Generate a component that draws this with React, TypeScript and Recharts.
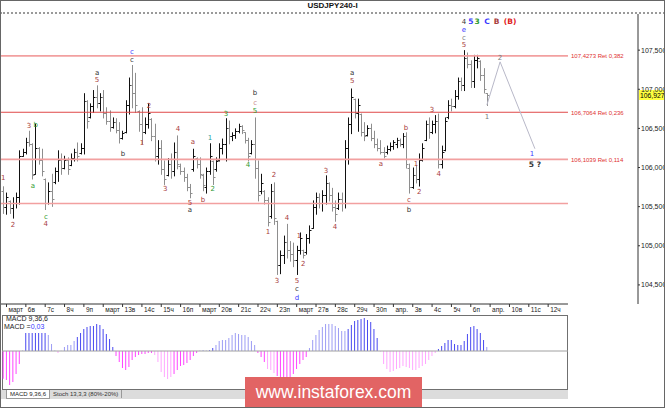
import React from "react";
import {
  ComposedChart,
  Bar,
  Line,
  XAxis,
  YAxis,
  ReferenceLine,
  ReferenceDot,
  Cell,
} from "recharts";

// 4h bars, index 0 = last bar of Fri 2 March, index 150 = last bar of Fri 6 April
const opens = [
  105.70, 105.50, 105.57, 105.48, 105.55, 105.62, 106.15, 106.20, 106.33, 106.30,
  105.92, 106.25, 106.10, 105.85, 105.55, 105.70, 105.82, 105.95, 106.10, 106.00,
  106.10, 106.03, 106.12, 106.20, 106.18, 106.25, 106.85, 106.65, 106.78, 106.90,
  106.82, 106.90, 106.70, 106.60, 106.52, 106.58, 106.48, 106.38, 106.45, 106.80,
  107.05, 106.95, 106.72, 106.55, 106.45, 106.55, 106.62, 106.40, 106.15, 106.25,
  105.98, 105.90, 106.05, 105.95, 106.20, 106.02, 105.95, 105.88, 105.75, 105.98,
  106.12, 106.05, 105.90, 105.75, 105.95, 106.08, 105.98, 106.10, 106.25, 106.30,
  106.50, 106.40, 106.42, 106.47, 106.53, 106.45, 106.35, 106.18, 106.30, 106.00,
  105.70, 105.70, 105.58, 105.38, 105.70, 105.32, 104.75, 104.88, 105.05, 104.95,
  104.90, 104.82, 104.95, 104.94, 104.92, 105.10, 105.23, 105.50, 105.62, 105.55,
  105.65, 105.80, 105.65, 105.50, 105.48, 105.60, 105.55, 106.25, 106.55, 106.88,
  106.70, 106.68, 106.45, 106.42, 106.50, 106.38, 106.30, 106.25, 106.20, 106.20,
  106.24, 106.28, 106.30, 106.35, 106.30, 106.40, 106.00, 105.75, 105.90, 105.85,
  106.10, 106.35, 106.55, 106.45, 106.55, 106.60, 106.05, 106.22, 106.65, 106.80,
  106.78, 106.92, 107.10, 107.05, 107.40, 107.32, 107.10, 107.38, 107.36, 107.18,
  106.95,
];
const highs = [
  105.76, 105.68, 105.58, 105.62, 105.68, 106.22, 106.24, 106.38, 106.47, 106.31,
  106.56, 106.26, 106.24, 105.86, 105.81, 105.92, 106.00, 106.22, 106.18, 106.15,
  106.13, 106.18, 106.24, 106.32, 106.31, 106.95, 106.86, 106.82, 106.99, 107.05,
  106.95, 106.99, 106.77, 106.73, 106.64, 106.63, 106.58, 106.47, 106.86, 107.15,
  107.31, 107.21, 106.73, 106.77, 106.64, 106.82, 106.63, 106.56, 106.35, 106.35,
  106.09, 106.12, 106.18, 106.32, 106.41, 106.05, 106.00, 105.92, 105.79, 106.24,
  106.13, 106.13, 105.92, 106.00, 106.31, 106.09, 106.13, 106.31, 106.37, 106.63,
  106.60, 106.45, 106.50, 106.56, 106.54, 106.45, 106.38, 106.35, 106.64, 106.09,
  105.92, 105.71, 105.62, 105.79, 105.81, 105.32, 104.94, 105.13, 105.28, 105.06,
  105.04, 105.00, 105.17, 104.95, 105.15, 105.26, 105.58, 105.68, 105.67, 105.71,
  105.90, 105.81, 105.74, 105.58, 105.68, 105.68, 106.35, 106.64, 107.01, 106.88,
  106.88, 106.69, 106.58, 106.54, 106.56, 106.47, 106.37, 106.35, 106.26, 106.28,
  106.32, 106.35, 106.38, 106.37, 106.44, 106.45, 106.05, 106.00, 106.03, 106.18,
  106.31, 106.60, 106.64, 106.60, 106.67, 106.69, 106.28, 106.64, 106.86, 106.88,
  106.99, 107.15, 107.15, 107.50, 107.47, 107.37, 107.44, 107.44, 107.37, 107.27,
  106.95,
];
const lows = [
  105.42, 105.41, 105.42, 105.36, 105.49, 105.54, 106.15, 106.18, 106.28, 105.86,
  105.92, 106.05, 105.90, 105.47, 105.54, 105.51, 105.80, 105.83, 105.92, 105.99,
  105.92, 106.03, 106.09, 106.09, 106.18, 106.18, 106.51, 106.64, 106.71, 106.77,
  106.73, 106.64, 106.56, 106.47, 106.51, 106.45, 106.32, 106.37, 106.45, 106.69,
  106.77, 106.71, 106.47, 106.31, 106.44, 106.51, 106.35, 106.09, 106.05, 105.92,
  105.79, 105.90, 105.87, 105.90, 105.99, 105.92, 105.83, 105.71, 105.62, 105.96,
  106.00, 105.87, 105.71, 105.68, 105.92, 105.79, 105.96, 106.09, 106.18, 106.09,
  106.31, 106.35, 106.38, 106.45, 106.44, 106.32, 106.09, 106.18, 105.87, 105.58,
  105.67, 105.54, 105.26, 105.36, 105.28, 104.64, 104.65, 104.78, 104.85, 104.81,
  104.74, 104.64, 104.90, 104.85, 104.90, 105.04, 105.23, 105.41, 105.49, 105.45,
  105.54, 105.58, 105.45, 105.32, 105.47, 105.45, 105.49, 106.05, 106.44, 106.64,
  106.47, 106.41, 106.35, 106.41, 106.35, 106.26, 106.22, 106.18, 106.13, 106.18,
  106.22, 106.24, 106.26, 106.28, 106.26, 106.00, 105.68, 105.74, 105.81, 105.77,
  106.09, 106.35, 106.38, 106.44, 106.45, 106.00, 106.00, 106.22, 106.63, 106.73,
  106.77, 106.88, 106.99, 106.99, 107.28, 107.03, 107.03, 107.28, 107.12, 106.96,
  106.80,
];
const closes = [
  105.50, 105.62, 105.48, 105.55, 105.62, 106.15, 106.20, 106.33, 106.30, 105.90,
  106.25, 106.10, 105.95, 105.55, 105.70, 105.60, 105.95, 106.10, 106.00, 106.10,
  105.98, 106.12, 106.20, 106.15, 106.25, 106.85, 106.60, 106.78, 106.90, 106.82,
  106.90, 106.70, 106.60, 106.52, 106.58, 106.48, 106.38, 106.44, 106.80, 107.05,
  106.95, 106.80, 106.55, 106.45, 106.55, 106.70, 106.40, 106.15, 106.25, 105.98,
  105.85, 106.05, 105.95, 106.20, 106.05, 105.95, 105.88, 105.75, 105.68, 106.15,
  106.05, 105.92, 105.78, 105.95, 106.15, 105.88, 106.08, 106.25, 106.30, 106.50,
  106.40, 106.42, 106.47, 106.53, 106.48, 106.35, 106.15, 106.30, 106.00, 105.65,
  105.80, 105.58, 105.30, 105.70, 105.35, 104.75, 104.88, 105.05, 104.95, 104.90,
  104.82, 104.95, 105.10, 104.88, 105.10, 105.20, 105.50, 105.62, 105.55, 105.65,
  105.80, 105.65, 105.50, 105.40, 105.60, 105.55, 106.25, 106.55, 106.90, 106.70,
  106.80, 106.45, 106.40, 106.50, 106.38, 106.30, 106.25, 106.20, 106.15, 106.24,
  106.28, 106.32, 106.35, 106.30, 106.40, 106.05, 105.75, 105.90, 105.85, 106.10,
  106.25, 106.55, 106.45, 106.55, 106.60, 106.05, 106.20, 106.60, 106.80, 106.78,
  106.92, 107.10, 107.05, 107.40, 107.32, 107.10, 107.38, 107.40, 107.18, 107.00,
  106.93,
];

// MACD 9,36,6 histogram, one value per bar
const macd = [
  -0.208, -0.218, -0.255, -0.233, -0.173, -0.098, 0.002, 0.135, 0.135, 0.135,
  0.135, 0.135, 0.135, 0.135, 0.12, 0.053, 0.004, -0.015, 0.002, 0.03,
  0.045, 0.045, 0.075, 0.105, 0.135, 0.165, 0.18, 0.188, 0.188, 0.203,
  0.195, 0.165, 0.128, 0.09, 0.03, -0.038, -0.083, -0.128, -0.143, -0.12,
  -0.068, -0.045, -0.03, -0.023, -0.023, -0.015, -0.015, -0.03, -0.083, -0.158,
  -0.195, -0.21, -0.195, -0.173, -0.143, -0.113, -0.105, -0.09, -0.068, -0.038,
  -0.015, 0.002, 0.004, 0.002, 0.005, 0.023, 0.045, 0.075, 0.083, 0.083,
  0.098, 0.12, 0.135, 0.128, 0.12, 0.12, 0.105, 0.075, 0.045, -0.015,
  -0.045, -0.083, -0.135, -0.143, -0.165, -0.188, -0.255, -0.248, -0.218, -0.195,
  -0.173, -0.135, -0.098, -0.068, -0.045, 0.023, 0.083, 0.12, 0.158, 0.18,
  0.203, 0.203, 0.203, 0.188, 0.173, 0.15, 0.15, 0.165, 0.195, 0.225,
  0.233, 0.24, 0.248, 0.233, 0.218, 0.165, 0.098, -0.004, -0.098, -0.135,
  -0.158, -0.15, -0.135, -0.128, -0.113, -0.12, -0.128, -0.143, -0.143, -0.128,
  -0.113, -0.098, -0.068, -0.038, -0.015, 0.015, 0.038, 0.06, 0.083, 0.083,
  0.053, 0.045, 0.045, 0.075, 0.128, 0.18, 0.188, 0.165, 0.135, 0.083,
  0.03,
];
// bar ranges drawn in the pale shade
const macdPaleRanges = [[14, 22], [47, 52], [66, 78], [82, 84], [95, 106], [117, 134], [150, 150]];

const dayLabels = [
  "март", "6в", "7с", "8ч", "9п", "март", "13в", "14с", "15ч", "16п",
  "март", "20в", "21с", "22ч", "23п", "март", "27в", "28с", "29ч", "30п",
  "апр.", "3в", "4с", "5ч", "6п", "апр.", "10в", "11с", "12ч",
];
const dayStarts = dayLabels.map((_, k) => 1 + 6 * k);

const priceTicks = [104.5, 105, 105.5, 106, 106.5, 107, 107.5];
const lastPrice = 106.927;

const levels = [
  { price: 107.4273, text: "107,4273 Ret 0,382", tone: "soft" },
  { price: 106.7064, text: "106,7064 Ret 0,236", tone: "hard" },
  { price: 106.1039, text: "106,1039 Ret 0,114", tone: "soft" },
  { price: 105.54, text: "", tone: "soft" },
];

const projection = [
  { i: 150, p: 106.8 },
  { i: 154.1, p: 107.35 },
  { i: 164.9, p: 106.24 },
];

const waveLabels = [
  { i: 0, p: 105.87, t: "1", tone: "red" },
  { i: 3, p: 105.26, t: "2", tone: "red" },
  { i: 8, p: 106.53, t: "3", tone: "red" },
  { i: 10.1, p: 106.54, t: "b", tone: "green" },
  { i: 9.2, p: 105.77, t: "a", tone: "green" },
  { i: 13.2, p: 105.37, t: "c", tone: "green" },
  { i: 13.2, p: 105.28, t: "4", tone: "red" },
  { i: 29.1, p: 107.21, t: "a", tone: "black" },
  { i: 29.1, p: 107.12, t: "5", tone: "red" },
  { i: 37.1, p: 106.17, t: "b", tone: "black" },
  { i: 39.9, p: 107.47, t: "c", tone: "blue" },
  { i: 39.9, p: 107.37, t: "c", tone: "black" },
  { i: 43, p: 106.31, t: "1", tone: "red" },
  { i: 45.2, p: 106.78, t: "2", tone: "red" },
  { i: 50.2, p: 105.73, t: "3", tone: "red" },
  { i: 54.2, p: 106.49, t: "4", tone: "red" },
  { i: 58.8, p: 106.32, t: "a", tone: "red" },
  { i: 57.9, p: 105.55, t: "5", tone: "red" },
  { i: 57.9, p: 105.46, t: "a", tone: "black" },
  { i: 61.9, p: 105.59, t: "b", tone: "red" },
  { i: 64.1, p: 106.38, t: "1", tone: "teal" },
  { i: 65, p: 105.72, t: "2", tone: "green" },
  { i: 69.1, p: 106.69, t: "3", tone: "green" },
  { i: 75.9, p: 106.03, t: "4", tone: "green" },
  { i: 78.1, p: 106.95, t: "b", tone: "black" },
  { i: 78.1, p: 106.83, t: "c", tone: "pink" },
  { i: 78.1, p: 106.72, t: "5", tone: "green" },
  { i: 82.1, p: 105.18, t: "1", tone: "red" },
  { i: 84, p: 105.9, t: "2", tone: "red" },
  { i: 84.9, p: 104.55, t: "3", tone: "red" },
  { i: 88, p: 105.36, t: "4", tone: "red" },
  { i: 91.1, p: 104.55, t: "5", tone: "red" },
  { i: 91.1, p: 104.45, t: "c", tone: "black" },
  { i: 91.1, p: 104.33, t: "d", tone: "blue" },
  { i: 91.7, p: 105.12, t: "1", tone: "red" },
  { i: 93, p: 104.77, t: "2", tone: "red" },
  { i: 100.1, p: 105.96, t: "3", tone: "red" },
  { i: 102.9, p: 105.24, t: "4", tone: "red" },
  { i: 108.2, p: 107.21, t: "a", tone: "black" },
  { i: 108.2, p: 107.1, t: "5", tone: "red" },
  { i: 117.1, p: 106.05, t: "a", tone: "red" },
  { i: 124.9, p: 106.51, t: "b", tone: "red" },
  { i: 125.8, p: 105.59, t: "c", tone: "red" },
  { i: 125.8, p: 105.46, t: "b", tone: "black" },
  { i: 128, p: 106.05, t: "1", tone: "red" },
  { i: 129, p: 105.69, t: "2", tone: "red" },
  { i: 133, p: 106.73, t: "3", tone: "red" },
  { i: 135.1, p: 105.92, t: "4", tone: "red" },
  { i: 142.9, p: 107.57, t: "5", tone: "red" },
  { i: 142.9, p: 107.66, t: "c", tone: "gray" },
  { i: 142.9, p: 107.76, t: "e", tone: "blue" },
  { i: 142.9, p: 107.86, t: "4", tone: "black" },
  { i: 150, p: 106.65, t: "1", tone: "gray" },
  { i: 154.1, p: 107.4, t: "2", tone: "gray" },
  { i: 164, p: 106.17, t: "1", tone: "blue" },
];

const degreeLabels = [
  { i: 145.0, p: 107.86, t: "5", tone: "blue" },
  { i: 147.0, p: 107.86, t: "3", tone: "green" },
  { i: 150.0, p: 107.86, t: "C", tone: "blue" },
  { i: 153.0, p: 107.86, t: "B", tone: "red" },
  { i: 157.2, p: 107.86, t: "(B)", tone: "bright" },
  { i: 164.9, p: 106.04, t: "5 ?", tone: "black" },
];

const TONES: Record<string, string> = {
  red: "#a83c3c",
  green: "#2e9a2e",
  blue: "#3a3aff",
  black: "#333333",
  gray: "#7a7a7a",
  pink: "#c98a8a",
  teal: "#2aa0a0",
  bright: "#e02020",
};

const X_MIN = -1.02;
const X_MAX = 196.87;
const X_AXIS_END = 175.15;
const Y_MIN = 104.256;
const Y_MAX = 107.962;
const FONT = "'Liberation Sans', Arial, sans-serif";

const bars = opens.map((o, i) => ({
  i,
  o,
  h: highs[i],
  l: lows[i],
  c: closes[i],
  range: [lows[i], highs[i]],
}));

const macdRows = macd.map((v, i) => ({ i, v }));
const isPale = (i: number) => macdPaleRanges.some(([a, b]) => i >= a && i <= b);

function OhlcShape(props: any) {
  const { x, y, width, height, payload } = props;
  if (x == null || y == null) return null;
  const top = Math.min(y, y + height);
  const bottom = Math.max(y, y + height);
  const span = payload.h - payload.l || 1;
  const cx = Math.round(x + width / 2) + 0.5;
  const yO = Math.round(top + ((payload.h - payload.o) / span) * (bottom - top)) + 0.5;
  const yC = Math.round(top + ((payload.h - payload.c) / span) * (bottom - top)) + 0.5;
  const color = payload.c >= payload.o ? "#111111" : "#8e8e8e";
  return (
    <g stroke={color} strokeWidth={1}>
      <line x1={cx} y1={top} x2={cx} y2={bottom + 1} />
      <line x1={cx - 2} y1={yO} x2={cx} y2={yO} />
      <line x1={cx} y1={yC} x2={cx + 2} y2={yC} />
    </g>
  );
}

function DayTick(props: any) {
  const { x, y, payload } = props;
  const k = dayStarts.indexOf(payload.value);
  return (
    <text x={x + 2} y={y + 4} fontSize={6.5} fill="#222" fontFamily={FONT}>
      {dayLabels[k]}
    </text>
  );
}

function LevelLabel(props: any) {
  const { viewBox, text } = props;
  if (!viewBox || !text) return null;
  return (
    <text
      x={viewBox.x + viewBox.width + 3}
      y={viewBox.y + 2.5}
      fontSize={6}
      fill="#e03030"
      fontFamily={FONT}
    >
      {text}
    </text>
  );
}

function PriceTag(props: any) {
  const { viewBox } = props;
  if (!viewBox) return null;
  const x = viewBox.x + viewBox.width + 1;
  return (
    <g>
      <rect x={x} y={viewBox.y - 5} width={27} height={10} fill="#ffff40" />
      <text x={x + 1} y={viewBox.y + 3} fontSize={6.8} fill="#000" fontFamily={FONT}>
        {lastPrice.toFixed(3).replace(".", ",")}
      </text>
    </g>
  );
}

const textShape = (t: string, tone: string, bold: boolean) => (p: any) => (
  <text
    x={p.cx}
    y={p.cy}
    textAnchor="middle"
    dominantBaseline="central"
    fontSize={bold ? 7.5 : 7}
    fontWeight={bold ? "bold" : "normal"}
    fill={TONES[tone]}
    fontFamily="'DejaVu Sans', sans-serif"
  >
    {t}
  </text>
);

function PriceChart() {
  return (
    <ComposedChart
      width={665}
      height={316}
      data={bars}
      margin={{ top: 14, right: 0, bottom: 0, left: 0 }}
    >
      <XAxis
        dataKey="i"
        type="number"
        domain={[X_MIN, X_MAX]}
        allowDataOverflow
        ticks={dayStarts}
        interval={0}
        height={12}
        axisLine={false}
        tickSize={3}
        tickMargin={1}
        tickLine={{ stroke: "#333" }}
        tick={<DayTick />}
      />
      <YAxis
        orientation="right"
        width={27}
        domain={[Y_MIN, Y_MAX]}
        allowDataOverflow
        ticks={priceTicks}
        interval={0}
        tickSize={2}
        tickMargin={1}
        axisLine={{ stroke: "#333" }}
        tickLine={{ stroke: "#333" }}
        tick={{ fontSize: 7, fill: "#222", fontFamily: FONT }}
        tickFormatter={(v) => Number(v).toFixed(3).replace(".", ",")}
      />
      <ReferenceLine
        segment={[
          { x: X_MIN, y: Y_MIN },
          { x: X_AXIS_END, y: Y_MIN },
        ]}
        stroke="#333"
      />
      {levels.map((lv) => (
        <ReferenceLine
          key={lv.price}
          segment={[
            { x: X_MIN, y: lv.price },
            { x: X_AXIS_END, y: lv.price },
          ]}
          stroke={lv.tone === "hard" ? "#e04848" : "#f2a0a0"}
          strokeWidth={lv.tone === "hard" ? 1 : 1.6}
          label={<LevelLabel text={lv.text} />}
        />
      ))}
      <ReferenceLine y={lastPrice} strokeOpacity={0} label={<PriceTag />} />
      <Bar
        dataKey="range"
        barSize={1}
        shape={<OhlcShape />}
        isAnimationActive={false}
      />
      <Line
        data={projection}
        dataKey="p"
        type="linear"
        stroke="#b8b8c8"
        strokeWidth={1}
        dot={false}
        isAnimationActive={false}
      />
      {waveLabels.map((w, k) => (
        <ReferenceDot
          key={"w" + k}
          x={w.i}
          y={w.p}
          r={0}
          shape={textShape(w.t, w.tone, false)}
        />
      ))}
      {degreeLabels.map((w, k) => (
        <ReferenceDot
          key={"d" + k}
          x={w.i}
          y={w.p}
          r={0}
          shape={textShape(w.t, w.tone, true)}
        />
      ))}
    </ComposedChart>
  );
}

function MacdChart() {
  return (
    <ComposedChart
      width={665}
      height={74}
      data={macdRows}
      margin={{ top: 0, right: 27, bottom: 0, left: 0 }}
    >
      <XAxis dataKey="i" type="number" domain={[X_MIN, X_MAX]} allowDataOverflow hide />
      <YAxis domain={[-0.285, 0.27]} allowDataOverflow hide />
      <ReferenceLine
        segment={[
          { x: X_MIN + 0.6, y: 0 },
          { x: X_AXIS_END, y: 0 },
        ]}
        stroke="#a0a0a0"
      />
      <Bar dataKey="v" barSize={1} isAnimationActive={false}>
        {macdRows.map((r) => (
          <Cell
            key={r.i}
            fill={
              r.v >= 0
                ? isPale(r.i)
                  ? "#9c9cf4"
                  : "#4848f0"
                : isPale(r.i)
                ? "#ffa6ff"
                : "#ff44ff"
            }
          />
        ))}
      </Bar>
    </ComposedChart>
  );
}

export default function App() {
  return (
    <div
      style={{
        position: "absolute",
        left: 0,
        top: 0,
        width: 665,
        height: 408,
        background: "#fff",
        overflow: "hidden",
        fontFamily: FONT,
      }}
    >
      <div
        style={{
          position: "absolute",
          left: 0,
          top: 1,
          width: 665,
          textAlign: "center",
          fontSize: 8,
          fontWeight: "bold",
          color: "#111",
        }}
      >
        USDJPY240-I
      </div>
      <div
        style={{
          position: "absolute",
          left: 0,
          top: 12,
          width: 665,
          height: 0,
          borderTop: "2px dotted #9a9a9a",
        }}
      />
      <div style={{ position: "absolute", left: 0, top: 0 }}>
        <PriceChart />
      </div>
      <div
        style={{
          position: "absolute",
          left: 2,
          top: 315,
          width: 564,
          height: 73,
          border: "1px solid #707070",
        }}
      />
      <div style={{ position: "absolute", left: 0, top: 315 }}>
        <MacdChart />
      </div>
      <div style={{ position: "absolute", left: 6, top: 315, fontSize: 7, color: "#222", lineHeight: "8px" }}>
        MACD 9,36,6
      </div>
      <div style={{ position: "absolute", left: 4, top: 323, fontSize: 7, color: "#222", lineHeight: "8px" }}>
        MACD =<span style={{ color: "#3a3aff" }}>0,03</span>
      </div>
      <div
        style={{
          position: "absolute",
          left: 0,
          top: 390,
          width: 568,
          height: 9,
          background: "#dcdcdc",
        }}
      />
      <div
        style={{
          position: "absolute",
          left: 6,
          top: 390,
          fontSize: 6,
          lineHeight: "8px",
          background: "#fff",
          border: "1px solid #999",
          borderTop: "none",
          padding: "0 3px",
          color: "#222",
        }}
      >
        MACD 9,36,6
      </div>
      <div
        style={{
          position: "absolute",
          left: 50,
          top: 390,
          fontSize: 6,
          lineHeight: "8px",
          padding: "0 3px",
          color: "#333",
          borderRight: "1px solid #999",
        }}
      >
        Stoch 13,3,3 (80%-20%)
      </div>
      <div
        style={{
          position: "absolute",
          left: 245,
          top: 377,
          width: 177,
          height: 31,
          background: "#e26464",
          color: "#fff",
          fontSize: 17.5,
          lineHeight: "31px",
          textAlign: "center",
          fontFamily: FONT,
        }}
      >
        www.instaforex.com
      </div>
      <div
        style={{
          position: "absolute",
          left: 0,
          top: 0,
          width: 665,
          height: 408,
          boxSizing: "border-box",
          border: "1px solid #666",
          pointerEvents: "none",
        }}
      />
    </div>
  );
}
